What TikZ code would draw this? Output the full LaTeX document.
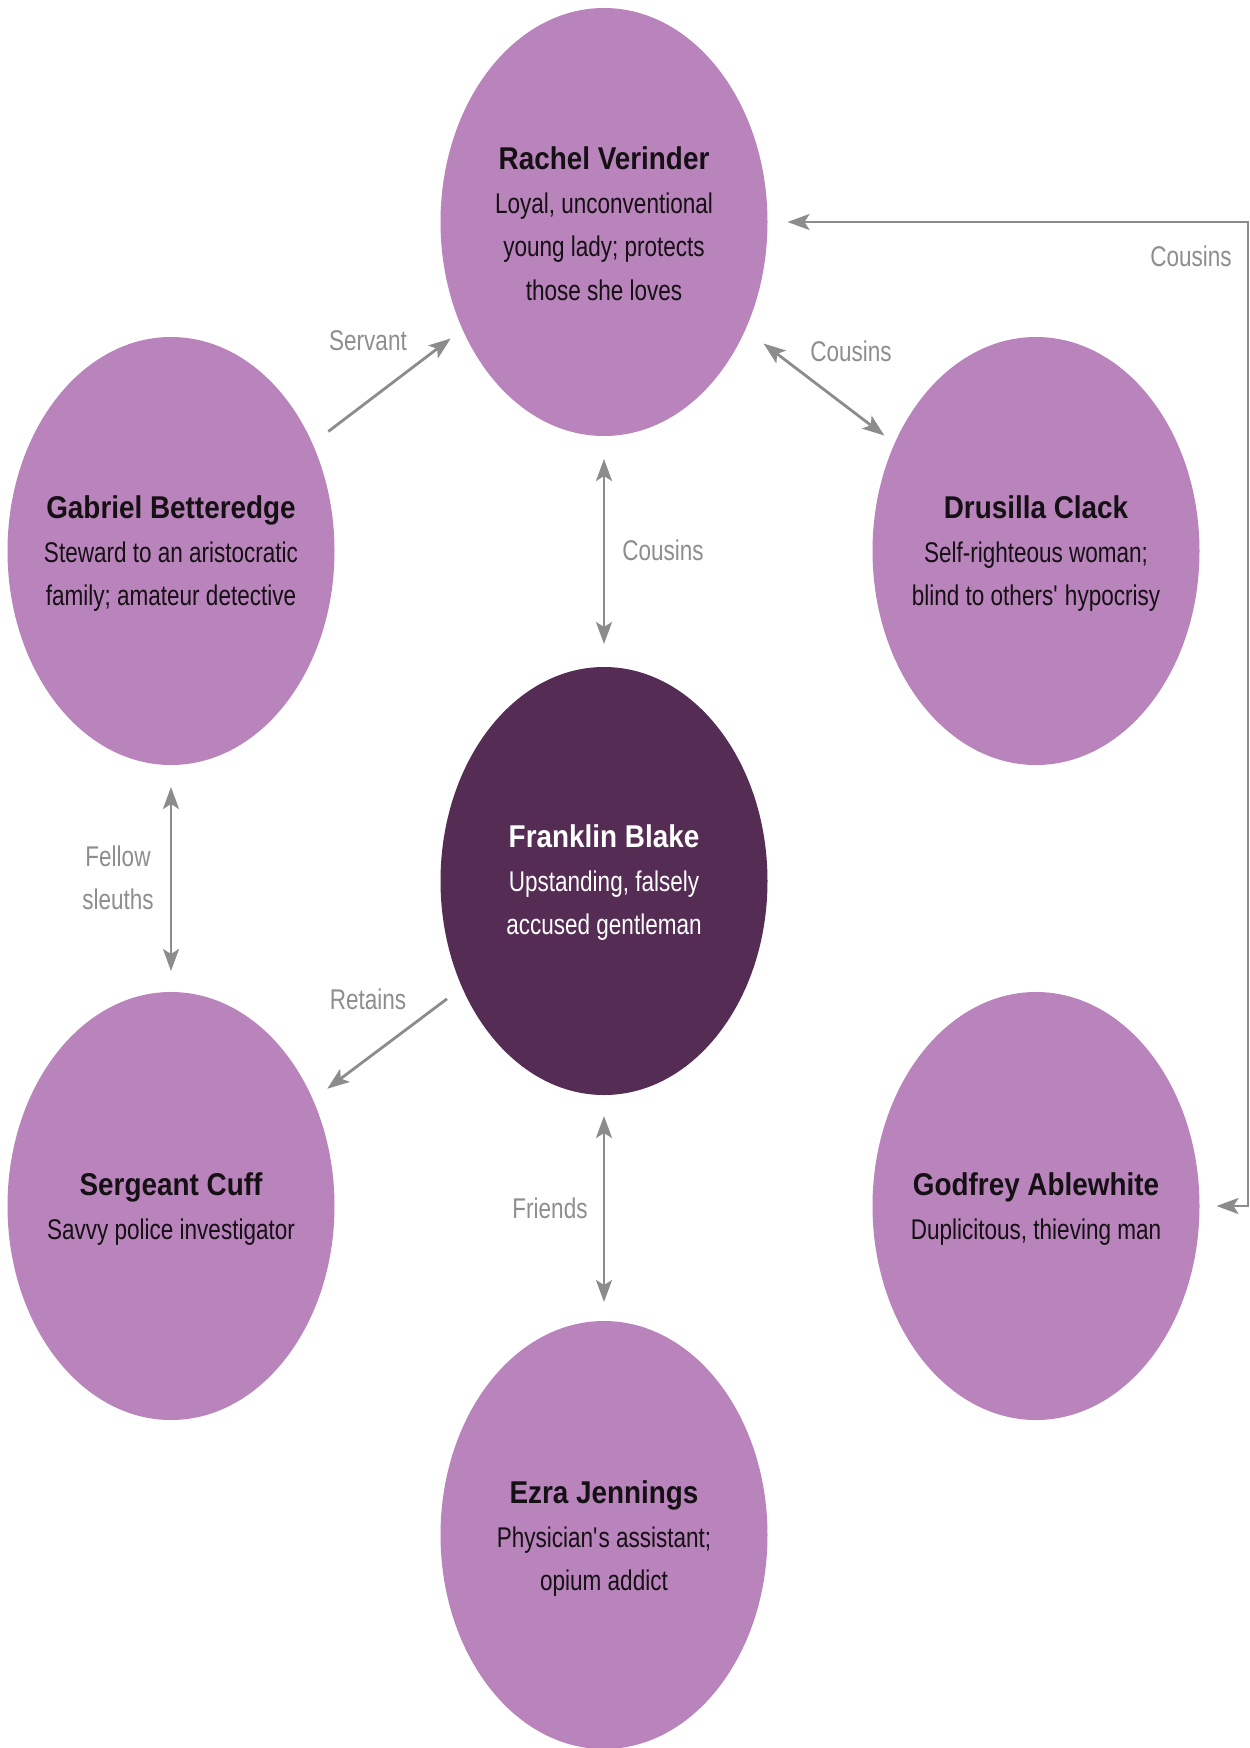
\documentclass[tikz,border=0pt]{standalone}
\usepackage{fontspec}
\setmainfont{Liberation Sans}[FakeStretch=0.79]
\newfontfamily\titlefont{Liberation Sans}[FakeStretch=0.885]
\usetikzlibrary{shapes.geometric,arrows.meta}
\definecolor{lightp}{HTML}{B983BB}
\definecolor{darkp}{HTML}{542C54}
\definecolor{arrgray}{HTML}{8C8C8C}
\definecolor{lblgray}{HTML}{8E8E8E}
\definecolor{inkblack}{HTML}{141014}
\newcommand\ttl[1]{{\titlefont\bfseries\fontsize{31.5}{43.5}\selectfont #1}}
\begin{document}
\begin{tikzpicture}[x=1pt,y=-1pt,
  person/.style={ellipse, fill=lightp, draw=none, minimum width=327pt, minimum height=428pt, inner sep=0pt, outer sep=0pt},
  hero/.style={person, fill=darkp},
  ptext/.style={anchor=north, inner sep=0pt, align=center, text=inkblack, font=\fontsize{28.5}{43.5}\selectfont},
  htext/.style={ptext, text=white},
  rel/.style={draw=arrgray, line width=2.8pt, -{Stealth[length=22pt,width=16pt,inset=5pt]}},
  both/.style={draw=arrgray, line width=2.8pt, {Stealth[length=22pt,width=16pt,inset=5pt]}-{Stealth[length=22pt,width=16pt,inset=5pt]}},
  lbl/.style={text=lblgray, inner sep=0pt, align=center, font=\fontsize{28.5}{43}\selectfont}
]
\useasboundingbox[fill=white] (0,0) rectangle (1250,1748);

% ellipses
\node[person] (rachel)   at (604,222)  {};
\node[person] (gabriel)  at (171,551)  {};
\node[person] (drusilla) at (1036,551) {};
\node[hero]   (franklin) at (604,881)  {};
\node[person] (sergeant) at (171,1206) {};
\node[person] (godfrey)  at (1036,1206) {};
\node[person] (ezra)     at (604,1535) {};

% texts
\node[ptext] (rachelT) at (604,146.8) {\ttl{Rachel Verinder}\\Loyal, unconventional\\young lady; protects\\those she loves};
\node[ptext] (gabrielT) at (171,495.8) {\ttl{Gabriel Betteredge}\\Steward to an aristocratic\\family; amateur detective};
\node[ptext] (drusillaT) at (1036,495.8) {\ttl{Drusilla Clack}\\Self-righteous woman;\\blind to others\textquotesingle\ hypocrisy};
\node[htext] (franklinT) at (604,824.5) {\ttl{Franklin Blake}\\Upstanding, falsely\\accused gentleman};
\node[ptext] (sergeantT) at (171,1172.5) {\ttl{Sergeant Cuff}\\Savvy police investigator};
\node[ptext] (godfreyT) at (1036,1172.5) {\ttl{Godfrey Ablewhite}\\Duplicitous, thieving man};
\node[ptext] (ezraT) at (604,1480.5) {\ttl{Ezra Jennings}\\Physician\textquotesingle s assistant;\\opium addict};

% connectors
\coordinate (rc) at (1248,1206);
\draw[rel, shorten <=20pt, shorten >=15pt] (gabriel) -- (rachel);
\draw[both, shorten <=23pt, shorten >=13pt] (rachel) -- (drusilla);
\draw[both, shorten <=23pt, shorten >=23pt] (rachel) -- (franklin);
\draw[both, shorten <=20pt, shorten >=17pt] (rachel.east) -| (rc) -- (godfrey.east);
\draw[both, shorten <=22pt, shorten >=21pt] (gabriel) -- (sergeant);
\draw[rel, shorten <=19pt, shorten >=18pt] (franklin) -- (sergeant);
\draw[both, shorten <=21pt, shorten >=19pt] (franklin) -- (ezra);

% labels
\node[lbl] (lservant) at (368,341) {Servant};
\node[lbl] (lcous1) at (851,351) {Cousins};
\node[lbl] (lcous2) at (663,550) {Cousins};
\node[lbl] (lcous3) at (1191,256) {Cousins};
\node[lbl] (lfellow) at (118,877.5) {Fellow\\sleuths};
\node[lbl] (lretains) at (368,999) {Retains};
\node[lbl] (lfriends) at (550,1208) {Friends};
\end{tikzpicture}
\end{document}
